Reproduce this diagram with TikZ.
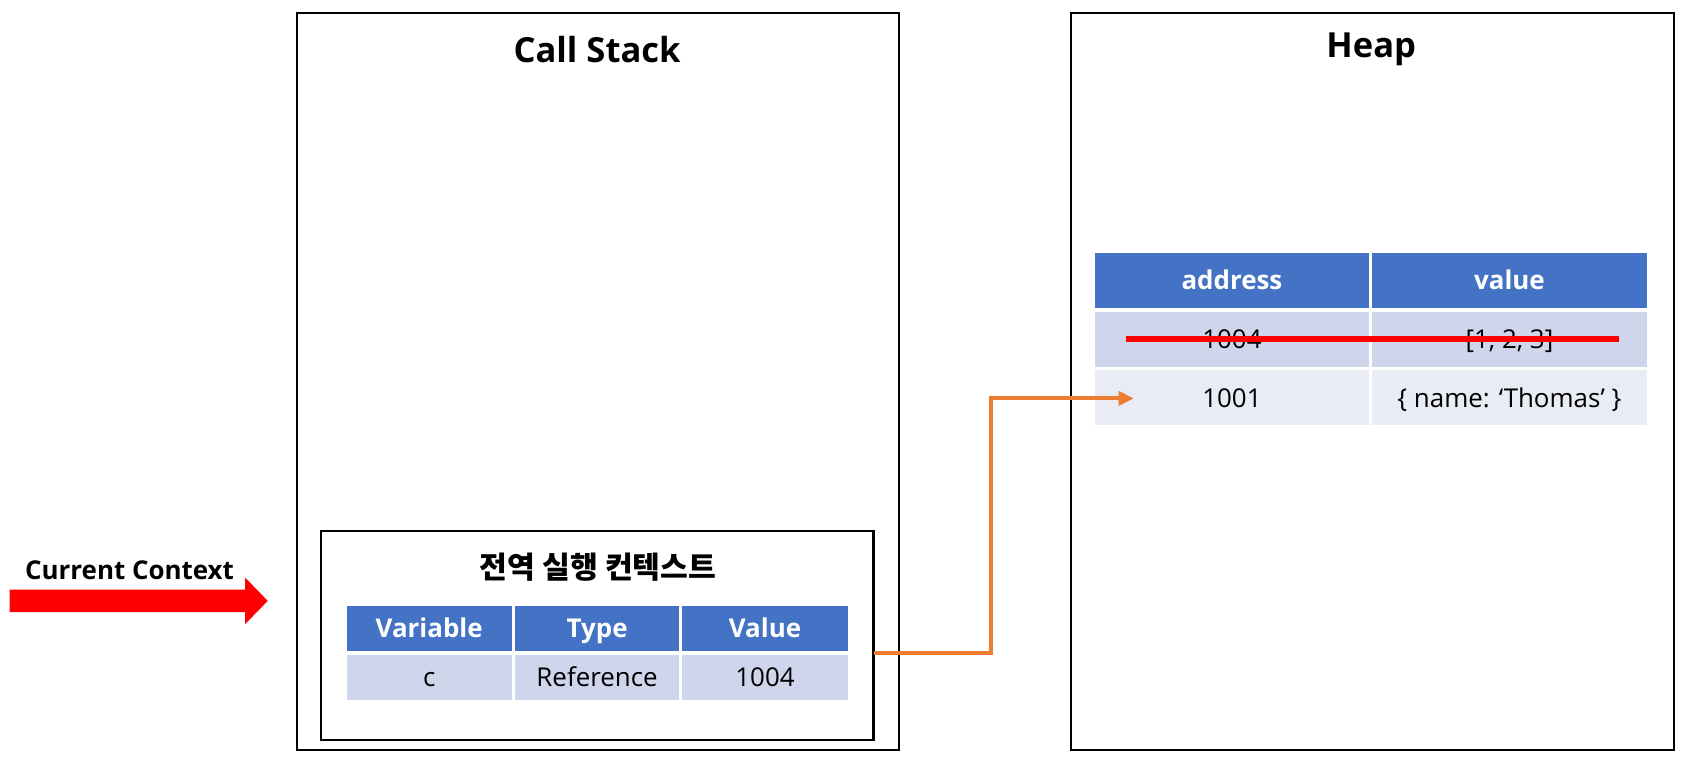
\documentclass[tikz,border=0pt]{standalone}
\usepackage{fontspec}
\setmainfont{Open Sans}
\newfontfamily\krfont{Noto Sans CJK KR}
\usepackage{tikz}
\usetikzlibrary{arrows.meta}

\definecolor{hdrblue}{HTML}{4472C4}
\definecolor{rowdark}{HTML}{CFD5EA}
\definecolor{rowlight}{HTML}{E9EBF5}
\definecolor{refline}{HTML}{ED7D31}

\tikzset{
  panel/.style = {draw = black, line width = 2pt},
  title/.style = {font = \fontsize{32}{38}\selectfont\bfseries},
  hcell/.style = {fill = hdrblue, text = white, inner sep = 0pt,
                  text height = 17pt, text depth = 0pt,
                  font = \fontsize{24}{28}\selectfont\bfseries},
  dcell/.style = {fill = rowdark, inner sep = 0pt,
                  text height = 17pt, text depth = 0pt,
                  font = \fontsize{24}{28}\selectfont},
  lcell/.style = {dcell, fill = rowlight}
}

\begin{document}
\begin{tikzpicture}[x = 1pt, y = -1pt]
\useasboundingbox (0,0) rectangle (1568,713);

% current context marker
\fill[red] (9,546) -- (227,546) -- (227,535) -- (248,556.5) -- (227,578) -- (227,567) -- (9,567) -- cycle;
\node[font = \fontsize{24}{28}\selectfont\bfseries] (current) at (120,528) {Current Context};

% call stack
\draw[panel] (275,12) rectangle (833,695);
\node[title] (stack) at (553,46) {Call Stack};

\draw[panel] (297,492) rectangle (809,685);
\node[font = \krfont\fontsize{28}{32}\selectfont\bfseries] (global) at (554,525) {전역 실행 컨텍스트};

\node[hcell, minimum width = 153pt, minimum height = 42pt] (s-var) at (397.5,582) {Variable};
\node[hcell, minimum width = 152pt, minimum height = 42pt] (s-type) at (553,582) {Type};
\node[hcell, minimum width = 153pt, minimum height = 42pt] (s-val) at (708.5,582) {Value};
\node[dcell, minimum width = 153pt, minimum height = 41pt] (c-var) at (397.5,627.5) {c};
\node[dcell, minimum width = 152pt, minimum height = 41pt] (c-type) at (553,627.5) {Reference};
\node[dcell, minimum width = 153pt, minimum height = 41pt] (c-val) at (708.5,627.5) {1004};

% heap
\draw[panel] (992,12) rectangle (1550,695);
\node[title] (heap) at (1270,46) {Heap};

\node[hcell, minimum width = 254pt, minimum height = 51pt] (h-addr) at (1141,259.5) {address};
\node[hcell, minimum width = 254pt, minimum height = 51pt] (h-val) at (1398,259.5) {value};
\node[dcell, minimum width = 254pt, minimum height = 51pt] (a1004) at (1141,314.5) {1004};
\node[dcell, minimum width = 254pt, minimum height = 51pt] (v1004) at (1398,314.5) {[1, 2, 3]};
\node[lcell, minimum width = 254pt, minimum height = 51pt] (a1001) at (1141,368.5) {1001};
\node[lcell, minimum width = 254pt, minimum height = 51pt] (v1001) at (1398,368.5) {\{ name: ‘Thomas’ \}};

\draw[red, line width = 6pt] (1043,314) -- (1499,314);

% reference from c to the heap
\coordinate (ctx-out) at (809,605);
\coordinate (obj-in) at (1050,369);
\draw[refline, line width = 3.7pt, -{Triangle[length = 14pt, width = 13pt]}] (ctx-out) -- ++(109,0) |- (obj-in);
\end{tikzpicture}
\end{document}
